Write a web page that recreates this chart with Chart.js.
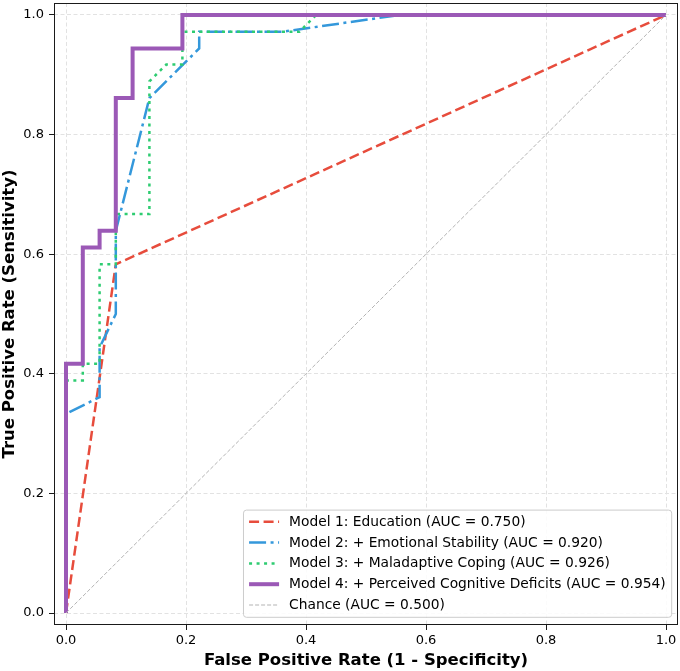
<!DOCTYPE html>
<html><head><meta charset="utf-8">
<script src="https://cdn.jsdelivr.net/npm/chart.js@4.4.1/dist/chart.umd.min.js"></script>
<style>html,body{margin:0;padding:0;background:#fff}canvas{display:block}</style>
</head><body>
<canvas id="c" width="680" height="671"></canvas>
<script>
// ---- data ----
const SERIES_LABELS = [
  'Model 1: Education (AUC = 0.750)',
  'Model 2: + Emotional Stability (AUC = 0.920)',
  'Model 3: + Maladaptive Coping (AUC = 0.926)',
  'Model 4: + Perceived Cognitive Deficits (AUC = 0.954)',
  'Chance (AUC = 0.500)'
];
const M1_FPR = [0, 0.083, 1];
const M1_TPR = [0, 0.583, 1];
const M2_FPR = [0, 0, 0.056, 0.056, 0.083, 0.083, 0.139, 0.222, 0.222, 0.361, 0.556, 1];
const M2_TPR = [0, 0.333, 0.361, 0.444, 0.5, 0.639, 0.861, 0.944, 0.972, 0.972, 1, 1];
const M3_FPR = [0, 0, 0.028, 0.028, 0.056, 0.056, 0.083, 0.083, 0.139, 0.139, 0.167, 0.194, 0.194, 0.389, 0.417, 1];
const M3_TPR = [0, 0.389, 0.389, 0.417, 0.417, 0.583, 0.583, 0.667, 0.667, 0.889, 0.917, 0.917, 0.972, 0.972, 1, 1];
const M4_FPR = [0, 0, 0.028, 0.028, 0.056, 0.056, 0.083, 0.083, 0.111, 0.111, 0.194, 0.194, 1];
const M4_TPR = [0, 0.417, 0.417, 0.611, 0.611, 0.639, 0.639, 0.861, 0.861, 0.944, 0.944, 1, 1];
const CHANCE_FPR = [0, 1];
const CHANCE_TPR = [0, 1];
const AXIS_TICKS = [0, 0.2, 0.4, 0.6, 0.8, 1.0];
const X_TITLE = 'False Positive Rate (1 - Specificity)';
const Y_TITLE = 'True Positive Rate (Sensitivity)';

const toXY = (xs, ys) => xs.map((x, i) => ({x: x, y: ys[i]}));
const FONT = '"DejaVu Sans", "Liberation Sans", sans-serif';

const lineDS = (label, xs, ys, color, width, dash, order) => ({
  label, data: toXY(xs, ys), showLine: true, borderColor: color, backgroundColor: color,
  borderWidth: width, borderDash: dash, pointRadius: 0, pointHoverRadius: 0,
  tension: 0, fill: false, order, borderJoinStyle: 'miter', borderCapStyle: 'butt'
});

const datasets = [
  lineDS(SERIES_LABELS[0], M1_FPR, M1_TPR, '#e74c3c', 2.5, [10, 4.5], 4),
  lineDS(SERIES_LABELS[1], M2_FPR, M2_TPR, '#3498db', 2.5, [17, 4.5, 3, 4.5], 3),
  lineDS(SERIES_LABELS[2], M3_FPR, M3_TPR, '#2ecc71', 2.5, [3, 4.5], 2),
  lineDS(SERIES_LABELS[3], M4_FPR, M4_TPR, '#9b59b6', 4, [], 1),
  lineDS(SERIES_LABELS[4], CHANCE_FPR, CHANCE_TPR, '#b3b3b3', 1, [4, 2], 0)
];

const spinePlugin = {
  id: 'spines',
  afterDatasetsDraw(chart) {
    const {ctx, chartArea: a} = chart;
    ctx.save();
    ctx.strokeStyle = '#1a1a1a';
    ctx.lineWidth = 1;
    ctx.setLineDash([]);
    ctx.strokeRect(Math.round(a.left) + 0.5, Math.round(a.top) + 0.5,
      Math.round(a.right - a.left) - 1, Math.round(a.bottom - a.top) - 1);
    ctx.restore();
  }
};

const legendPlugin = {
  id: 'insideLegend',
  afterDraw(chart) {
    const ctx = chart.ctx, a = chart.chartArea;
    const fs = 13.8;
    ctx.save();
    ctx.font = fs + 'px ' + FONT;
    const ds = chart.data.datasets;
    const maxW = Math.max(...ds.map(d => ctx.measureText(d.label).width));
    const padL = 5.6, handle = 30, gap = 10, padR = 6, rowH = 20.8, padT = 11.7, padB = 12.3;
    const w = padL + handle + gap + maxW + padR;
    const h = padT + rowH * (ds.length - 1) + padB;
    const right = a.right - 6.3, bottom = a.bottom - 7.7;
    const left = right - w, top = bottom - h;
    const r = 3;
    ctx.beginPath();
    ctx.moveTo(left + r, top);
    ctx.lineTo(right - r, top);
    ctx.arcTo(right, top, right, top + r, r);
    ctx.lineTo(right, bottom - r);
    ctx.arcTo(right, bottom, right - r, bottom, r);
    ctx.lineTo(left + r, bottom);
    ctx.arcTo(left, bottom, left, bottom - r, r);
    ctx.lineTo(left, top + r);
    ctx.arcTo(left, top, left + r, top, r);
    ctx.closePath();
    ctx.fillStyle = 'rgba(255,255,255,0.85)';
    ctx.fill();
    ctx.strokeStyle = '#cccccc';
    ctx.lineWidth = 1;
    ctx.stroke();
    ds.forEach((d, i) => {
      const y = top + padT + i * rowH;
      ctx.beginPath();
      ctx.setLineDash(d.borderDash || []);
      ctx.lineWidth = d.borderWidth;
      ctx.strokeStyle = d.borderColor;
      ctx.lineCap = 'butt';
      ctx.moveTo(left + padL, y);
      ctx.lineTo(left + padL + handle, y);
      ctx.stroke();
      ctx.setLineDash([]);
      ctx.fillStyle = '#000';
      ctx.textBaseline = 'middle';
      ctx.textAlign = 'left';
      ctx.fillText(d.label, left + padL + handle + gap, y + 0.5);
    });
    ctx.restore();
  }
};

const axisCommon = (title, isX) => ({
  type: 'linear', min: -0.02, max: 1.02,
  afterBuildTicks: s => { s.ticks = AXIS_TICKS.map(v => ({value: v})); },
  afterFit: s => {
    if (isX) { s.height = 46; s.paddingLeft = 0; s.paddingRight = 0; }
    else { s.width = 54; s.paddingTop = 0; s.paddingBottom = 0; }
  },
  ticks: {
    font: {family: FONT, size: 13}, color: '#000', padding: isX ? 3 : 5,
    callback: v => Number(v).toFixed(1), maxRotation: 0, autoSkip: false
  },
  grid: {color: '#e2e2e2', lineWidth: 1, tickColor: '#1a1a1a', tickLength: 5, tickWidth: 1},
  border: {display: false, dash: [4, 2.5]},
  title: {display: true, text: title, color: '#000',
    font: {family: FONT, size: 16.5, weight: 'bold', lineHeight: 1.2},
    padding: {top: 0, bottom: 0}}
});

new Chart(document.getElementById('c'), {
  type: 'scatter',
  data: {datasets},
  options: {
    responsive: false, animation: false, events: [],
    layout: {padding: {left: 0, right: 2, top: 3, bottom: 0}},
    plugins: {legend: {display: false}, tooltip: {enabled: false}},
    scales: {
      x: axisCommon(X_TITLE, true),
      y: axisCommon(Y_TITLE, false)
    }
  },
  plugins: [spinePlugin, legendPlugin]
});
</script>
</body></html>
